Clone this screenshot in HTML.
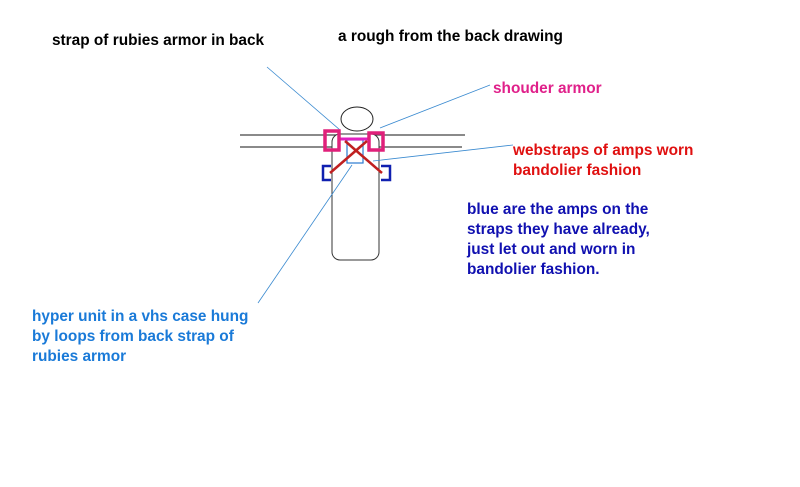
<!DOCTYPE html>
<html><head><meta charset="utf-8"><style>
body{margin:0;background:#fff;width:800px;height:487px;overflow:hidden;position:relative;font-family:"Liberation Sans",Arial,sans-serif;}
.t{position:absolute;font-weight:bold;font-size:15.4px;line-height:20px;white-space:nowrap;}
</style></head><body>
<svg width="800" height="487" style="position:absolute;left:0;top:0">
<g fill="none">
<line x1="240" y1="135" x2="465" y2="135" stroke="#444" stroke-width="1.3"/>
<line x1="240" y1="147" x2="462" y2="147" stroke="#444" stroke-width="1.3"/>
<ellipse cx="357" cy="119" rx="16" ry="12" stroke="#222" fill="#fff"/>
<rect x="332" y="134" width="47" height="126" rx="8" stroke="#333" fill="#fff"/>
<line x1="267" y1="67" x2="340" y2="130" stroke="#3a8ad0" stroke-width="0.8"/>
<line x1="490" y1="85" x2="380" y2="128" stroke="#3a8ad0" stroke-width="0.8"/>
<line x1="513" y1="145" x2="373" y2="161" stroke="#3a8ad0" stroke-width="0.8"/>
<line x1="258" y1="303" x2="352" y2="165" stroke="#3a8ad0" stroke-width="0.8"/>
<rect x="347" y="140" width="16" height="23" stroke="#2a7ad0" stroke-width="1.2"/>
<line x1="340" y1="139" x2="368" y2="139" stroke="#e020c0" stroke-width="3"/>
<rect x="325" y="131" width="14" height="19" stroke="#e0207a" stroke-width="3.5"/>
<rect x="369" y="133" width="14" height="17" stroke="#e0207a" stroke-width="3.5"/>
<path d="M331 166 H323 V180 H331" stroke="#1020b0" stroke-width="2.5"/>
<path d="M381 166 H390 V180 H381" stroke="#1020b0" stroke-width="2.5"/>
<line x1="330" y1="173" x2="367" y2="141" stroke="#c02020" stroke-width="2.5"/>
<line x1="382" y1="173" x2="345" y2="141" stroke="#c02020" stroke-width="2.5"/>
</g></svg>
<div class="t" style="left:52px;top:31px;color:#000">strap of rubies armor in back</div>
<div class="t" style="left:338px;top:27px;color:#000">a rough from the back drawing</div>
<div class="t" style="left:493px;top:79px;color:#e0208a">shouder armor</div>
<div class="t" style="left:513px;top:141px;color:#e01010">webstraps of amps worn<br>bandolier fashion</div>
<div class="t" style="left:467px;top:200px;color:#1010b0">blue are the amps on the<br>straps they have already,<br>just let out and worn in<br>bandolier fashion.</div>
<div class="t" style="left:32px;top:307px;color:#1a7ad8">hyper unit in a vhs case hung<br>by loops from back strap of<br>rubies armor</div>
</body></html>
